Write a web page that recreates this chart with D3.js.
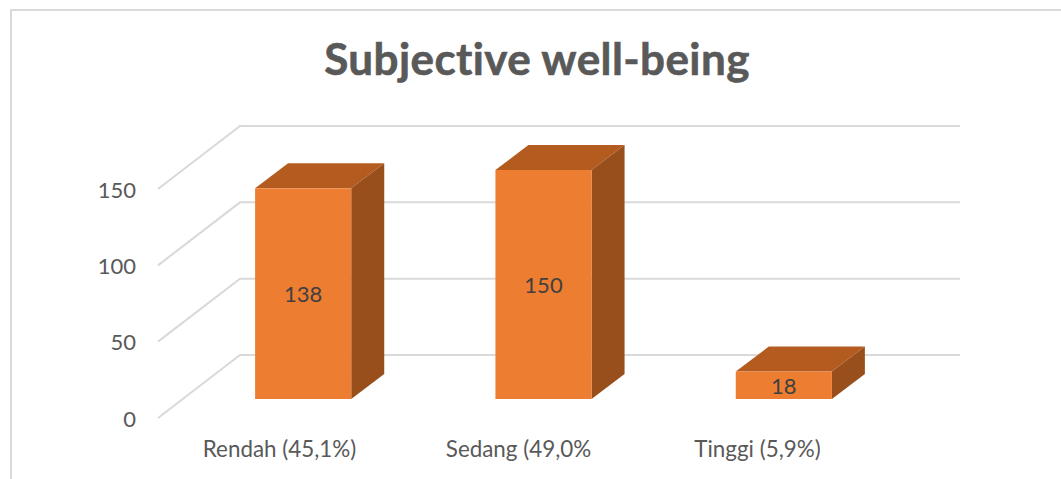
<!DOCTYPE html>
<html>
<head>
<meta charset="utf-8">
<script src="https://cdn.jsdelivr.net/npm/d3@7"></script>
<style>
  html, body { margin: 0; padding: 0; background: #fff; }
  svg { display: block; font-family: Lato, "Open Sans", sans-serif; font-variant-ligatures: none; }
</style>
</head>
<body>
<svg></svg>
<script>
let width = 1061,
    height = 479;

// values
let categories = ['Rendah (45,1%)', 'Sedang (49,0%', 'Tinggi (5,9%)'];
let values = [138, 150, 18];
let yTicks = [0, 50, 100, 150];
let title = 'Subjective well-being';

let svg = d3.select("svg")
    .attr("width", width)
    .attr("height", height);

// frame, open at the bottom and right like the crop
svg.append("path")
    .attr("d", d3.line()([[11, height], [11, 10], [width, 10]]))
    .attr("fill", "none")
    .attr("stroke", "#d9d9d9")
    .attr("stroke-width", 2);

svg.append("text")
    .attr("x", 537)
    .attr("y", 75)
    .attr("text-anchor", "middle")
    .attr("font-size", 44)
    .attr("font-weight", "bold")
    .attr("letter-spacing", 0.4)
    .attr("fill", "#595959")
    .attr("stroke", "#595959")
    .attr("stroke-width", 0.6)
    .text(title);

// the 3d look: floor goes back by (82, -63), the bars are (33, -25) deep
let wallDx = 82, wallDy = -63;
let barDx = 33, barDy = -25;

let y = d3.scaleLinear().domain([0, 150]).range([418, 189]);
let barHeight = d3.scaleLinear().domain([0, 150]).range([0, 229]);
let barBase = 399;
let x = d3.scaleBand().domain(categories).range([183, 904]).paddingInner(0.6).paddingOuter(0.3);
let xLabel = d3.scalePoint().domain(categories).range([279, 757]);

// gridlines: slanted floor part and then along the back wall
svg.append("g").selectAll("path")
    .data(yTicks)
    .enter().append("path")
    .attr("d", d => d3.line()([
        [158, y(d)],
        [158 + wallDx, y(d) + wallDy],
        [960, y(d) + wallDy]
    ]))
    .attr("fill", "none")
    .attr("stroke", "#d9d9d9")
    .attr("stroke-width", 2);

let yAxis = svg.append("g")
    .attr("transform", "translate(136, 1)")
    .call(d3.axisLeft(y).tickValues(yTicks).tickSize(0).tickPadding(0));
yAxis.select(".domain").remove();
yAxis.selectAll("text")
    .attr("font-family", "Lato, 'Open Sans', sans-serif")
    .attr("font-size", 22)
    .attr("fill", "#595959");

let xAxis = svg.append("g")
    .attr("transform", "translate(0, 441)")
    .call(d3.axisBottom(xLabel).tickSize(0).tickPadding(0));
xAxis.select(".domain").remove();
xAxis.selectAll("text")
    .attr("font-family", "Lato, 'Open Sans', sans-serif")
    .attr("font-size", 22.4)
    .attr("fill", "#595959");

let bars = svg.append("g").selectAll("g")
    .data(categories)
    .enter().append("g");

let bw = x.bandwidth();
let top_ = i => barBase - barHeight(values[i]);

// top face
bars.append("path")
    .attr("d", (d, i) => d3.line()([
        [x(d), top_(i)],
        [x(d) + barDx, top_(i) + barDy],
        [x(d) + bw + barDx, top_(i) + barDy],
        [x(d) + bw, top_(i)]
    ]) + "Z")
    .attr("fill", "#b45c20");

// side face
bars.append("path")
    .attr("d", (d, i) => d3.line()([
        [x(d) + bw, top_(i)],
        [x(d) + bw + barDx, top_(i) + barDy],
        [x(d) + bw + barDx, barBase + barDy],
        [x(d) + bw, barBase]
    ]) + "Z")
    .attr("fill", "#984f1c");

// front face
bars.append("rect")
    .attr("x", d => x(d))
    .attr("y", (d, i) => top_(i))
    .attr("width", bw)
    .attr("height", (d, i) => barHeight(values[i]))
    .attr("fill", "#ed7d31");

bars.append("text")
    .attr("x", d => x(d) + bw / 2)
    .attr("y", (d, i) => top_(i) + barHeight(values[i]) / 2 + 8.5)
    .attr("text-anchor", "middle")
    .attr("font-size", 22)
    .attr("fill", "#404040")
    .text((d, i) => values[i]);
</script>
</body>
</html>
